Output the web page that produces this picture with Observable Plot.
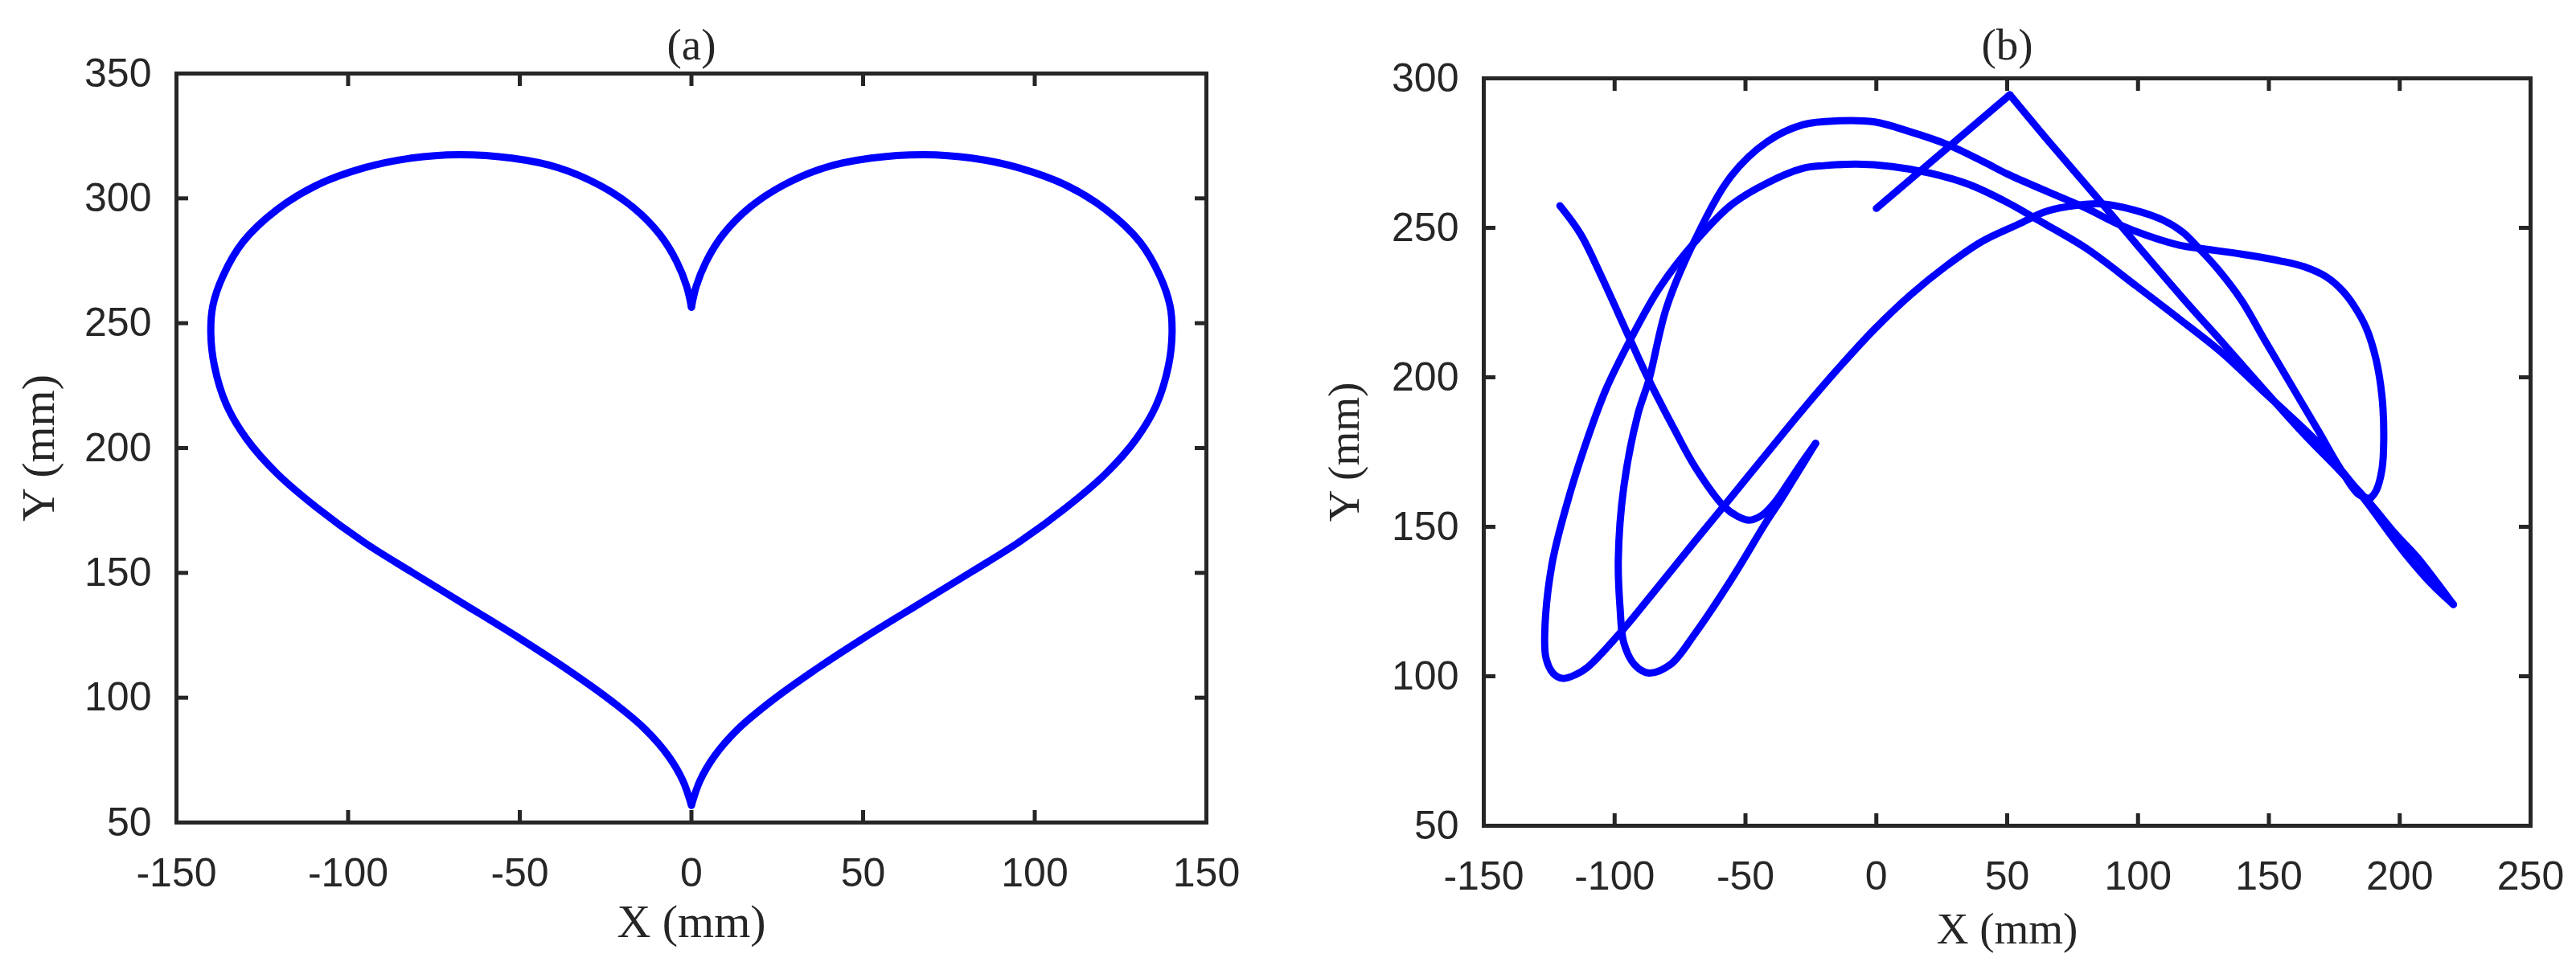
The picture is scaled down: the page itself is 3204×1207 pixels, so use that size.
<!DOCTYPE html>
<html>
<head>
<meta charset="utf-8">
<script src="https://cdn.jsdelivr.net/npm/d3@7"></script>
<script src="https://cdn.jsdelivr.net/npm/@observablehq/plot@0.6"></script>
<style>
  html, body { margin: 0; padding: 0; background: #fff; }
  #fig { position: relative; width: 3204px; height: 1207px; background: #fff; overflow: hidden; }
  #fig svg { position: absolute; top: 0; }
</style>
</head>
<body>
<div id="fig"></div>
<script>
// ---------- texts and ticks ----------
const titleA = "(a)";
const titleB = "(b)";
const xLabel = "X (mm)";
const yLabel = "Y (mm)";

const xTicksA = [-150, -100, -50, 0, 50, 100, 150];
const yTicksA = [50, 100, 150, 200, 250, 300, 350];
const xTicksB = [-150, -100, -50, 0, 50, 100, 150, 200, 250];
const yTicksB = [50, 100, 150, 200, 250, 300];

// ---------- Panel (a): heart trajectory ----------
// right half: top cusp -> right lobe -> bottom tip
const heartRightX = [0, 1.4, 4.3, 9.2, 17.0, 26.8, 38.6, 52.3, 67.9, 81.7, 95.4, 109.1, 120.8, 130.6, 136.5, 139.4, 140.0, 139.0, 135.5, 129.6, 120.8, 109.1, 95.4, 81.7, 66.0, 50.3, 35.5, 23.5, 13.6, 6.8, 2.5, 0];
const heartRightY = [256.4, 264.8, 274.7, 285.5, 296.4, 305.3, 312.2, 316.1, 317.5, 316.1, 312.2, 305.3, 295.4, 282.6, 268.8, 257.0, 246.1, 233.3, 217.5, 203.7, 189.9, 176.1, 162.3, 150.5, 137.3, 124.0, 110.7, 98.9, 87.5, 76.8, 66.8, 56.9];
// left half: top cusp -> left lobe -> bottom tip
const heartLeftX = [0, -1.4, -4.3, -9.2, -17.0, -26.8, -38.6, -52.3, -67.9, -81.7, -95.4, -109.1, -120.8, -130.6, -136.5, -139.4, -140.0, -139.0, -135.5, -129.6, -120.8, -109.1, -95.4, -81.7, -66.0, -50.3, -35.5, -23.5, -13.6, -6.8, -2.5, 0];
const heartLeftY = [256.4, 264.8, 274.7, 285.5, 296.4, 305.3, 312.2, 316.1, 317.5, 316.1, 312.2, 305.3, 295.4, 282.6, 268.8, 257.0, 246.1, 233.3, 217.5, 203.7, 189.9, 176.1, 162.3, 150.5, 137.3, 124.0, 110.7, 98.9, 87.5, 76.8, 66.8, 56.9];

// ---------- Panel (b): free trajectory, split at its sharp corners ----------
// start -> peak
const bSeg1X = [0, 51];
const bSeg1Y = [256.5, 294.5];
// peak -> far right tip
const bSeg2X = [51, 65.2, 86.0, 100.9, 117.3, 133.6, 150.0, 163.4, 176.8, 188.7, 198, 206.5, 213.5, 220.5];
const bSeg2Y = [294.5, 279.6, 258.4, 243.0, 226.3, 210.3, 194.0, 181.0, 169.0, 157.8, 148.0, 140.0, 132.2, 124];
// tip -> lower arch -> left loop -> middle arch -> sharp turn
const bSeg3X = [220.5, 212, 203, 196, 188, 179, 170, 161.9, 147.0, 132.1, 115.8, 99.4, 80.1, 62, 50, 35.4, 20.5, 6, -7.4, -20, -28.0, -41.7, -55.4, -69.1, -82.8, -93.8, -103.4, -111.6, -118.5, -124.0, -126.7, -126.2, -123.5, -119.8, -115, -110.2, -97.9, -85.6, -69.1, -55.4, -41.7, -28.0, -14.3, -0.6, 13.1, 26.8, 40.5, 54.3, 65.2, 77.1, 86.0, 97.9, 109.8, 117.3, 123.2, 130.7, 139.6, 148.5, 158.9, 169.3, 176.8, 184.2, 188.7];
const bSeg3Y = [124, 131.0, 140.0, 148.0, 157.5, 167.5, 177.0, 184.0, 196.0, 208.2, 219.5, 230.5, 243.2, 252.5, 258.5, 264.5, 268.3, 270.5, 271.3, 270.8, 269.9, 265.0, 257.7, 245.5, 230.0, 212.9, 195.8, 176.3, 156.8, 137.2, 114.5, 106, 101, 99.3, 100.5, 103.1, 114.5, 127.5, 145.4, 160.0, 174.7, 189.3, 203.2, 216.2, 227.6, 237.3, 245.5, 251.2, 255.6, 257.6, 258, 256.1, 252.5, 248.4, 243.2, 236.0, 225.7, 212.3, 196.9, 181.5, 170.2, 160.9, 159.4];
// sharp turn -> right loop -> upper arch -> second left loop -> cusp
const bSeg4X = [188.7, 190.9, 193.2, 193.9, 193.2, 190.9, 187.2, 182.7, 178.3, 172.3, 163.4, 154.5, 139.6, 124.7, 115.8, 103.9, 92.0, 80.1, 65.2, 50.3, 40.5, 26.8, 13.1, -0.6, -14.3, -28.0, -41.7, -55.4, -69.1, -80.1, -86.9, -91.1, -96.5, -98.6, -97.9, -96.5, -92.4, -86.9, -78.7, -69.1, -55.4, -41.7, -36.5, -32.1, -23.2];
const bSeg4Y = [159.4, 161.9, 169.1, 180.5, 193.8, 206.2, 216.5, 223.7, 228.8, 233.4, 237.0, 238.9, 241.2, 243.0, 244.2, 247.3, 251.4, 256.6, 262.2, 267.9, 272.3, 278.0, 282.1, 285.4, 285.8, 284.5, 278.8, 267.4, 246.3, 223.5, 199.1, 187.7, 163.3, 138.9, 122.6, 111.2, 103.9, 101.1, 103.9, 114.5, 132.4, 152.1, 159.0, 165.2, 177.9];
// cusp -> small dip -> end
const bSeg5X = [-23.2, -28.0, -33.0, -38.5, -43.5, -48.6, -53.0, -58.2, -69.1, -77.3, -86.9, -93.8, -104.8, -113.0, -120.9];
const bSeg5Y = [177.9, 172.0, 165.5, 158.5, 154.0, 152.2, 153.5, 156.8, 169.8, 182.8, 199.1, 212.1, 233.3, 247.9, 257.4];

// ---------- helpers ----------
const toRows = (segments) => segments.flatMap(([name, xs, ys]) => xs.map((x, i) => ({seg: name, x, y: ys[i]})));
const heartRows = toRows([["right", heartRightX, heartRightY], ["left", heartLeftX, heartLeftY]]);
const freeRows = toRows([["s1", bSeg1X, bSeg1Y], ["s2", bSeg2X, bSeg2Y], ["s3", bSeg3X, bSeg3Y], ["s4", bSeg4X, bSeg4Y], ["s5", bSeg5X, bSeg5Y]]);

const INK = "#262626";
const BLUE = "#0000ff";
const SANS = "Liberation Sans, Arial, sans-serif";
const SERIF = "Liberation Serif, Times New Roman, serif";
const fmt = d => String(d);

function panel({rows, xDomain, yDomain, xTicks, yTicks, title, m, width, ylabDx, titleDy, xlabDy, labSize}) {
  return Plot.plot({
    width, height: 1207,
    marginLeft: m.l, marginRight: m.r, marginTop: m.t, marginBottom: m.b,
    x: {domain: xDomain},
    y: {domain: yDomain},
    style: {background: "transparent", fontFamily: SANS, color: INK, overflow: "visible"},
    marks: [
      Plot.line(rows, {x: "x", y: "y", z: "seg", curve: "catmull-rom", stroke: BLUE, strokeWidth: 9, strokeLinejoin: "round", strokeLinecap: "round"}),
      Plot.frame({stroke: INK, strokeWidth: 5}),
      Plot.axisX(xTicks, {anchor: "bottom", tickSize: -15, fill: "none", stroke: INK, strokeWidth: 5, label: null}),
      Plot.axisX(xTicks, {anchor: "top", tickSize: -15, fill: "none", stroke: INK, strokeWidth: 5, label: null}),
      Plot.axisY(yTicks, {anchor: "left", tickSize: -15, fill: "none", stroke: INK, strokeWidth: 5, label: null}),
      Plot.axisY(yTicks, {anchor: "right", tickSize: -15, fill: "none", stroke: INK, strokeWidth: 5, label: null}),
      Plot.axisX(xTicks, {anchor: "bottom", tickSize: 0, tickPadding: 44, tickFormat: fmt, fontSize: 50, fontFamily: SANS, fill: INK, label: null}),
      Plot.axisY(yTicks, {anchor: "left", tickSize: 0, tickPadding: 31, tickFormat: fmt, fontSize: 50, fontFamily: SANS, fill: INK, label: null}),
      Plot.text([xLabel], {text: d => d, frameAnchor: "bottom", dy: xlabDy, lineAnchor: "bottom", fontSize: labSize, fontFamily: SERIF, fill: INK}),
      Plot.text([yLabel], {text: d => d, frameAnchor: "left", dx: ylabDx, rotate: -90, lineAnchor: "bottom", textAnchor: "middle", fontSize: labSize, fontFamily: SERIF, fill: INK}),
      Plot.text([title], {text: d => d, frameAnchor: "top", dy: titleDy, lineAnchor: "bottom", fontSize: 55, fontFamily: SERIF, fill: INK})
    ]
  });
}

const fig = document.getElementById("fig");

const svgA = panel({
  rows: heartRows, xDomain: [-150, 150], yDomain: [50, 350], xTicks: xTicksA, yTicks: yTicksA,
  title: titleA, width: 1600, m: {l: 219, r: 100, t: 91, b: 184},
  ylabDx: -153, titleDy: -18, xlabDy: 142, labSize: 58
});
svgA.style.left = "0px";
fig.appendChild(svgA);

const svgB = panel({
  rows: freeRows, xDomain: [-150, 250], yDomain: [50, 300], xTicks: xTicksB, yTicks: yTicksB,
  title: titleB, width: 1604, m: {l: 245, r: 57, t: 97, b: 180},
  ylabDx: -156, titleDy: -24, xlabDy: 146, labSize: 55
});
svgB.style.left = "1600px";
fig.appendChild(svgB);
</script>
</body>
</html>
